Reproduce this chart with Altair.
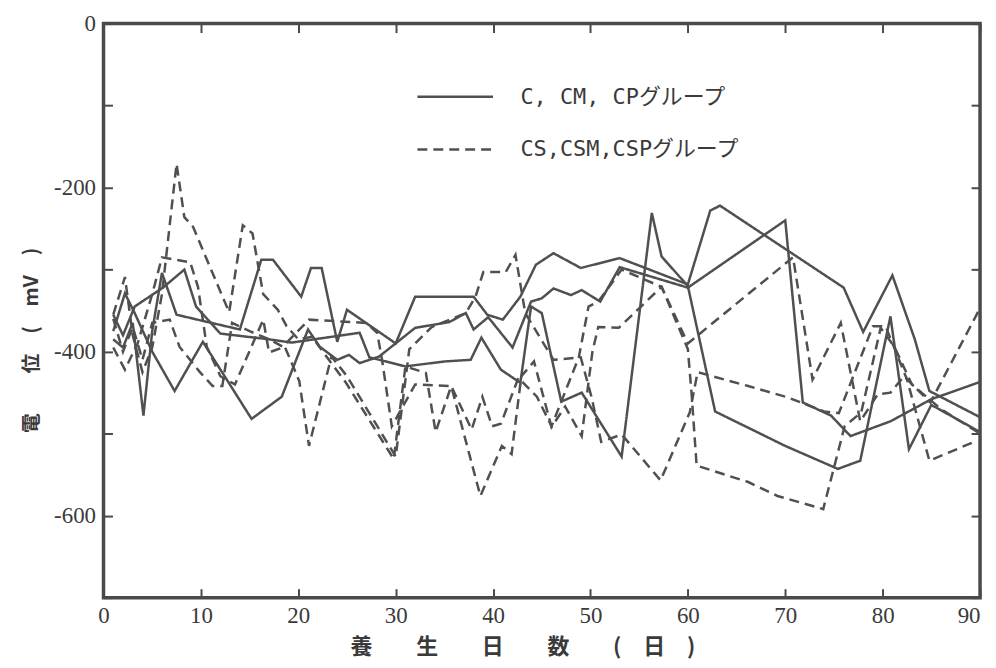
import altair as alt
import pandas as pd

# ---- data (x: 養生日数 [日], y: 電位 [mV]) ----
group_solid = "C, CM, CPグループ"
group_dash = "CS,CSM,CSPグループ"

s1_day = [1, 2, 3, 4.1, 5, 6, 7.5, 10, 14, 16.2, 17.4, 20.3, 21.3, 22.4, 24, 25, 30, 32, 38, 39.4,
          41, 42.8, 44.4, 46.2, 49, 53, 60, 62.3, 63.3, 76, 78, 81, 83.3, 84.8, 90]
s1_mv = [-385, -395, -365, -478, -375, -304, -355, -362, -373, -288, -288, -333, -298, -298, -388, -349, -390, -333, -333, -355,
         -361, -333, -294, -280, -298, -286, -318, -228, -222, -322, -376, -307, -385, -448, -480]

s2_day = [1, 2.2, 3.2, 5, 7.3, 10.2, 15.2, 18.3, 21, 22.2, 24, 25.2, 26.3, 28.3, 32, 35.5, 37.2, 38, 39.5, 42,
          43.9, 45, 46.2, 48, 49.1, 51, 53, 60, 70, 71.8, 74.7, 76.7, 80.8, 85, 90]
s2_mv = [-375, -329, -353, -400, -448, -388, -482, -455, -373, -394, -410, -404, -414, -406, -371, -364, -353, -373, -358, -395,
         -339, -335, -323, -331, -325, -339, -297, -322, -240, -462, -478, -503, -485, -458, -437]

s3_day = [1, 2, 3.2, 6.1, 8.3, 9.5, 12, 17, 19.3, 26.3, 27.3, 31, 35, 37.7, 38.8, 40.8, 42.8, 43.9, 45, 47,
          49.1, 53.2, 56.3, 57.3, 60, 62.8, 70, 75.4, 77.7, 80.8, 82.7, 85, 90]
s3_mv = [-355, -380, -345, -322, -300, -345, -378, -385, -389, -377, -407, -418, -412, -410, -383, -422, -438, -345, -353, -461,
         -450, -528, -231, -284, -320, -473, -515, -543, -533, -357, -519, -465, -498]

d1_day = [1, 2.2, 3, 4, 5, 6, 7.5, 8.3, 9.2, 12.9, 14.3, 15.3, 16.4, 17.9, 18.8, 20, 21.4, 24.9, 29.8, 31,
          33.1, 34.1, 35.7, 37.8, 38.9, 39.9, 40.8, 42.6, 44.5, 46, 48.8, 49.8, 50.8, 53.2, 57.3, 60, 60.4, 60.9, 66.2, 69.2,
          73.9, 76.1, 77.8, 79.8, 81.2, 83, 86, 90]
d1_mv = [-355, -309, -380, -425, -395, -330, -171, -236, -248, -352, -246, -256, -330, -349, -369, -385, -382, -438, -531, -418,
         -426, -498, -442, -495, -455, -491, -488, -432, -455, -491, -407, -345, -339, -300, -321, -397, -454, -539, -559, -576,
         -592, -491, -474, -371, -394, -440, -470, -500]

d2_day = [1, 2.2, 3.5, 5, 6, 8.9, 9.7, 10.6, 12, 13.5, 16.4, 17, 18.6, 19.3, 20.1, 21.1, 23.4, 25, 30, 31.4,
          33.7, 37.2, 38.2, 39, 41.3, 42.3, 43.3, 46.2, 49, 50.1, 51.1, 53.2, 57.2, 60.2, 61, 66.2, 70.3, 74, 75.5, 79,
          80.3, 82.5, 84.8, 89.4]
d2_mv = [-395, -422, -390, -330, -285, -291, -321, -394, -430, -440, -361, -401, -394, -413, -436, -515, -406, -430, -528, -397,
         -370, -353, -333, -303, -303, -282, -353, -410, -407, -455, -510, -501, -557, -474, -425, -442, -456, -473, -475, -369,
         -369, -434, -533, -510]

d3_day = [1, 2, 3, 4, 5, 6.8, 7.8, 9.9, 11.2, 12.2, 13.2, 15, 17, 18.4, 21.1, 27, 28.1, 28.6, 29.6, 32,
          35.7, 38.7, 40.9, 41.9, 42.9, 44.2, 46, 47.4, 49.1, 50.2, 50.8, 52.9, 57.3, 60, 70.8, 72.8, 75.7, 77.7, 79.5, 80.8,
          82.2, 84.9, 90]
d3_mv = [-360, -400, -370, -410, -365, -361, -394, -425, -442, -442, -365, -375, -385, -394, -361, -365, -377, -410, -491, -440,
         -442, -576, -515, -525, -430, -412, -492, -467, -503, -400, -370, -371, -321, -390, -285, -434, -365, -485, -452, -450,
         -430, -462, -347]

series = [
    ("s1", group_solid, s1_day, s1_mv),
    ("s2", group_solid, s2_day, s2_mv),
    ("s3", group_solid, s3_day, s3_mv),
    ("d1", group_dash, d1_day, d1_mv),
    ("d2", group_dash, d2_day, d2_mv),
    ("d3", group_dash, d3_day, d3_mv),
]
rows = []
for name, grp, xs, ys in series:
    for i, (xv, yv) in enumerate(zip(xs, ys)):
        rows.append({"series": name, "group": grp, "day": xv, "mv": yv, "ord": i})
df = pd.DataFrame(rows)

x_ticks = list(range(0, 91, 10))
y_ticks = list(range(-700, 1, 100))
y_labels = [0, -200, -400, -600]

W, H = 881, 577
LINE = "#505050"
FRAME = "#4a4a4a"
TXT = "#3a3a3a"
NUM_FONT = "Liberation Serif"
JP_FONT = "Noto Sans CJK JP"

x_scale = alt.Scale(domain=[0, 90], nice=False, zero=False)
y_scale = alt.Scale(domain=[-700, 0], nice=False, zero=False)

base = alt.Chart(df)

lines = base.mark_line(strokeWidth=2.5, color=LINE).encode(
    x=alt.X("day:Q", scale=x_scale,
            axis=alt.Axis(orient="bottom", values=x_ticks, ticks=False, domain=False, grid=False,
                          labelFont=NUM_FONT, labelFontSize=23, labelColor=TXT, labelPadding=7,
                          labelFlush=False,
                          labelAlign=alt.ExprRef(expr="datum.value == 90 ? 'right' : 'center'"),
                          title="養　　生　　日　　数　　(　日　)", titleFont=JP_FONT, titleFontSize=22,
                          titleFontWeight="bold", titleColor=TXT, titlePadding=9,
                          titleX=421, titleAlign="center")),
    y=alt.Y("mv:Q", scale=y_scale,
            axis=alt.Axis(orient="left", values=y_labels, ticks=False, domain=False, grid=False,
                          labelFont=NUM_FONT, labelFontSize=23, labelColor=TXT, labelPadding=8,
                          labelFlush=False,
                          labelExpr="replace(datum.label, '−', '-')",
                          title="電　　位　(　mV　)", titleFont=JP_FONT, titleFontSize=20,
                          titleFontWeight="bold", titleColor=TXT, titleX=-62, titleY=318)),
    detail="series:N",
    order="ord:Q",
    strokeDash=alt.StrokeDash(
        "group:N",
        scale=alt.Scale(domain=[group_solid, group_dash], range=[[1, 0], [10, 6]]),
        legend=alt.Legend(title=None, orient="none", legendX=314, legendY=34,
                          symbolType="stroke", symbolSize=5776, symbolStrokeWidth=2.5,
                          symbolStrokeColor=LINE, labelFont="DejaVu Sans Mono, " + JP_FONT,
                          labelFontSize=22, labelColor=TXT, labelOffset=26, rowPadding=2,
                          labelLimit=400)),
)

tick_style = dict(labels=False, domain=False, grid=False, ticks=True, tickSize=9, tickWidth=2,
                  tickColor=FRAME, title=None)

ticks_a = base.mark_point(opacity=0).encode(
    x=alt.X("day:Q", scale=x_scale, axis=alt.Axis(orient="top", offset=-H, values=x_ticks, **tick_style)),
    y=alt.Y("mv:Q", scale=y_scale, axis=alt.Axis(orient="right", offset=-W, values=y_ticks, **tick_style)),
)
ticks_b = base.mark_point(opacity=0).encode(
    x=alt.X("day:Q", scale=x_scale, axis=alt.Axis(orient="bottom", offset=-H, values=x_ticks, **tick_style)),
    y=alt.Y("mv:Q", scale=y_scale, axis=alt.Axis(orient="left", offset=-W, values=y_ticks, **tick_style)),
)

chart = alt.layer(lines, ticks_a, ticks_b).resolve_axis(x="independent", y="independent").properties(
    width=W, height=H,
    padding={"left": 96, "top": 14, "right": 8, "bottom": 62},
    autosize=alt.AutoSizeParams(type="none"),
    background="white",
).configure_view(stroke=FRAME, strokeWidth=3.5)

chart.save("out.html", embed_options={"renderer": "svg", "actions": False})
